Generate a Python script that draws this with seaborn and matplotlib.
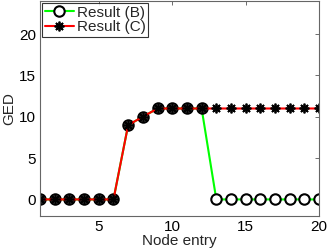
import numpy as np
import pandas as pd
import matplotlib
matplotlib.use("Agg")
import matplotlib.pyplot as plt
import seaborn as sns

node_entry = list(range(1, 21))
result_b = [0, 0, 0, 0, 0, 0, 9, 10, 11, 11, 11, 11, 0, 0, 0, 0, 0, 0, 0, 0]
result_c = [0, 0, 0, 0, 0, 0, 9, 10, 11, 11, 11, 11, 11, 11, 11, 11, 11, 11, 11, 11]

sns.set_style("white")
plt.rcParams["font.family"] = ["Liberation Sans", "DejaVu Sans"]

fig = plt.figure(figsize=(3.28, 2.52), dpi=100)
ax = fig.add_axes([0.122, 0.143, 0.851, 0.853])

df_b = pd.DataFrame({"x": node_entry, "y": result_b})
df_c = pd.DataFrame({"x": node_entry, "y": result_c})

sns.lineplot(data=df_b, x="x", y="y", ax=ax, color="#00ff00", lw=1.5,
             marker="o", markersize=7.5, markerfacecolor="white",
             markeredgecolor="black", markeredgewidth=1.5, label="Result (B)")
sns.lineplot(data=df_c, x="x", y="y", ax=ax, color="#ff0000", lw=1.5,
             marker=(8, 2, 0), markersize=7, markeredgecolor="black",
             markeredgewidth=1.3, label="Result (C)")

ax.set_xlim(1, 20)
ax.set_ylim(-2, 24)
ax.set_xticks([5, 10, 15, 20])
ax.set_yticks([0, 5, 10, 15, 20])
ax.set_xlabel("Node entry", fontsize=11, labelpad=0)
ax.set_ylabel("GED", fontsize=11, labelpad=2)
ax.tick_params(direction="in", top=True, right=True, length=3, width=0.6,
               colors="#555555", labelcolor="black", labelsize=11, pad=3)
for s in ax.spines.values():
    s.set_color("#666666")
    s.set_linewidth(0.8)

leg = ax.legend(loc="upper left", fontsize=11, frameon=True, fancybox=False,
                borderaxespad=0.15, handlelength=1.9, handletextpad=0.2,
                borderpad=0.15, labelspacing=0.05)
leg.get_frame().set_edgecolor("black")
leg.get_frame().set_linewidth(0.8)

fig.savefig("out.png", dpi=100)
